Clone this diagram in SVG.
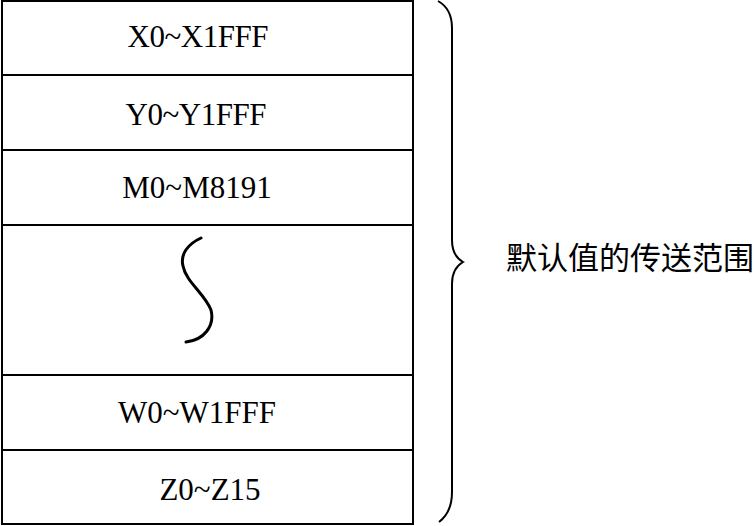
<svg xmlns="http://www.w3.org/2000/svg" width="754" height="526" viewBox="0 0 754 526">
<style>
.ln{stroke:#000;stroke-width:2;fill:none}
.sq{stroke:#000;stroke-width:3;fill:none;stroke-linecap:round}
.lbl{font-family:"Liberation Serif","Times New Roman",serif;font-size:31px;fill:#000;text-anchor:middle}
.cjk{font-family:"Liberation Serif","Noto Sans CJK SC",sans-serif;font-size:31px;fill:#000}
</style>
<rect width="754" height="526" fill="#fff"/>
<g id="table">
<rect class="ln" x="2" y="1" width="411" height="523"/>
</g>
<g id="row-x"><text class="lbl" x="198" y="47" textLength="141">X0~X1FFF</text></g>
<g id="row-y"><line class="ln" x1="2" y1="75" x2="413" y2="75"/><text class="lbl" x="196" y="125" textLength="141">Y0~Y1FFF</text></g>
<g id="row-m"><line class="ln" x1="2" y1="150" x2="413" y2="150"/><text class="lbl" x="197" y="198">M0~M8191</text></g>
<g id="row-gap"><line class="ln" x1="2" y1="225" x2="413" y2="225"/><path class="sq" d="M201,238 C188,244 180,254 183,266 C186,282 205,294 211,310 C215,326 204,340 186,342"/></g>
<g id="row-w"><line class="ln" x1="2" y1="375" x2="413" y2="375"/><text class="lbl" x="197" y="423" textLength="158">W0~W1FFF</text></g>
<g id="row-z"><line class="ln" x1="2" y1="450" x2="413" y2="450"/><text class="lbl" x="210" y="500">Z0~Z15</text></g>
<g id="connectors">
<path class="ln" d="M438,1 C447,6 452,14 452,28 L452,240 C452,252 456,258 463,262 C456,266 452,272 452,284 L452,492 C452,506 447,516 439,522"/>
</g>
<g id="label"><text class="cjk" x="506" y="269">默认值的传送范围</text></g>
</svg>
